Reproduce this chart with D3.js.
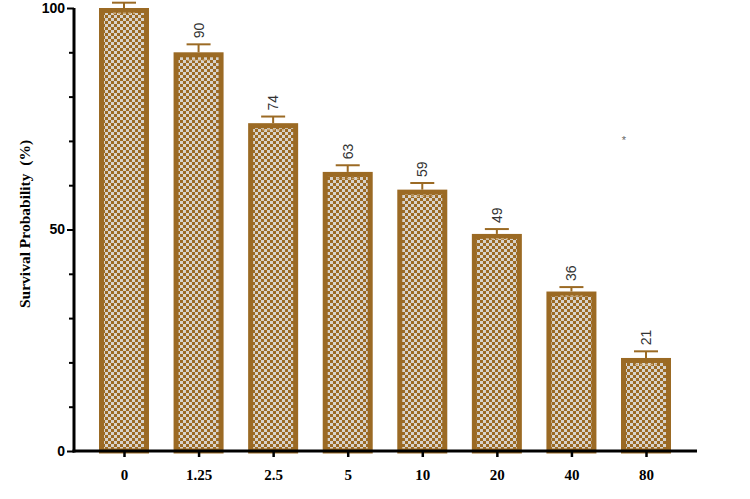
<!DOCTYPE html>
<html>
<head>
<meta charset="utf-8">
<script src="https://cdn.jsdelivr.net/npm/d3@7"></script>
<style>
  body { margin: 0; background: #fff; }
</style>
</head>
<body>
<div id="chart"></div>
<script>
// data
var doses = ["0", "1.25", "2.5", "5", "10", "20", "40", "80"];
var survival = [100, 90, 74, 63, 59, 49, 36, 21];
var errUp = [1.2, 1.8, 1.5, 1.5, 1.5, 1.1, 1.0, 1.5];
var showLabel = [false, true, true, true, true, true, true, true];
var yTicks = [0, 50, 100];

var W = 750, H = 499;
var brown = "#9b6a24";

var svg = d3.select("#chart").append("svg")
    .attr("width", W).attr("height", H);

// checker pattern for the bar fill
var defs = svg.append("defs");
var pat = defs.append("pattern")
    .attr("id", "checker")
    .attr("patternUnits", "userSpaceOnUse")
    .attr("width", 6).attr("height", 6);
pat.append("rect").attr("width", 6).attr("height", 6).attr("fill", "#d8d3cb");
pat.append("rect").attr("width", 3).attr("height", 3).attr("fill", brown);
pat.append("rect").attr("x", 3).attr("y", 3).attr("width", 3).attr("height", 3).attr("fill", brown);

var x = d3.scalePoint().domain(doses).range([124, 646]);
var y = d3.scaleLinear().domain([0, 100]).range([451, 8]);
var barW = 50;

var rows = doses.map(function(d, i){
  return {dose: d, value: survival[i], err: errUp[i], label: showLabel[i]};
});

// bars
var bars = svg.selectAll(".bar")
    .data(rows)
    .enter().append("g").attr("class", "bar");

bars.append("rect")
    .attr("x", function(d){ return x(d.dose) - barW/2 + 2.5; })
    .attr("y", function(d){ return y(d.value) + 2.5; })
    .attr("width", barW - 5)
    .attr("height", function(d){ return y(0) - y(d.value) - 2.5; })
    .attr("fill", "url(#checker)")
    .attr("stroke", brown)
    .attr("stroke-width", 5);

// lower error whisker, drawn inside the bar
bars.append("line")
    .attr("x1", function(d){ return x(d.dose) - 11; })
    .attr("x2", function(d){ return x(d.dose) + 11; })
    .attr("y1", function(d){ return y(d.value - d.err); })
    .attr("y2", function(d){ return y(d.value - d.err); })
    .attr("stroke", "#c9a878")
    .attr("stroke-width", 1.5)
    .attr("stroke-dasharray", "3,2");

// upper error bars
bars.append("line")
    .attr("x1", function(d){ return x(d.dose); })
    .attr("x2", function(d){ return x(d.dose); })
    .attr("y1", function(d){ return y(d.value); })
    .attr("y2", function(d){ return y(d.value + d.err); })
    .attr("stroke", brown)
    .attr("stroke-width", 2);
bars.append("line")
    .attr("x1", function(d){ return x(d.dose) - 12; })
    .attr("x2", function(d){ return x(d.dose) + 12; })
    .attr("y1", function(d){ return y(d.value + d.err); })
    .attr("y2", function(d){ return y(d.value + d.err); })
    .attr("stroke", brown)
    .attr("stroke-width", 2);

// value labels, rotated
bars.filter(function(d){ return d.label; })
  .append("text")
    .attr("transform", function(d){
      return "translate(" + (x(d.dose) + 5) + "," + (y(d.value + d.err) - 6) + ") rotate(-90)";
    })
    .attr("font-family", "Liberation Sans, Arial, sans-serif")
    .attr("font-size", "14px")
    .attr("fill", "#333")
    .text(function(d){ return d.value; });

// y axis
var yAxis = d3.axisLeft(y).tickValues(d3.range(0, 101, 10))
    .tickSize(5)
    .tickFormat(function(d){ return yTicks.indexOf(d) >= 0 ? d : ""; });
var gy = svg.append("g").attr("transform", "translate(74,0)").call(yAxis);
gy.select(".domain").attr("stroke", "#000").attr("stroke-width", 3)
    .attr("d", "M0," + y(100) + "V" + (y(0) + 1.5));
gy.selectAll(".tick line").attr("stroke", "#000").attr("stroke-width", 2)
    .attr("x2", function(d){ return yTicks.indexOf(d) >= 0 ? -7 : -5; });
gy.selectAll(".tick text")
    .attr("x", -9)
    .attr("font-family", "Liberation Sans, Arial, sans-serif")
    .attr("font-weight", "bold")
    .attr("font-size", "14px")
    .attr("fill", "#000");

// x axis
var xAxis = d3.axisBottom(x).tickSize(6).tickPadding(12);
var gx = svg.append("g").attr("transform", "translate(0," + y(0) + ")").call(xAxis);
gx.select(".domain").remove();
gx.append("line").attr("x1", 72.5).attr("x2", 697).attr("stroke", "#000").attr("stroke-width", 3);
gx.selectAll(".tick line").attr("stroke", "#000").attr("stroke-width", 2.5);
gx.selectAll(".tick text")
    .attr("font-family", "Liberation Serif, Times New Roman, serif")
    .attr("font-weight", "bold")
    .attr("font-size", "15px")
    .attr("fill", "#000");

// y label
svg.append("text")
    .attr("transform", "translate(30,308) rotate(-90)")
    .attr("text-anchor", "start")
    .attr("font-family", "Liberation Serif, Times New Roman, serif")
    .attr("font-weight", "bold")
    .attr("font-size", "15.5px")
    .attr("fill", "#000")
    .attr("xml:space", "preserve")
    .text("Survival Probability  (%)");

// stray asterisk
svg.append("text")
    .attr("x", 624).attr("y", 144)
    .attr("text-anchor", "middle")
    .attr("font-family", "Liberation Sans, Arial, sans-serif")
    .attr("font-size", "11px")
    .attr("fill", "#666")
    .text("*");
</script>
</body>
</html>
